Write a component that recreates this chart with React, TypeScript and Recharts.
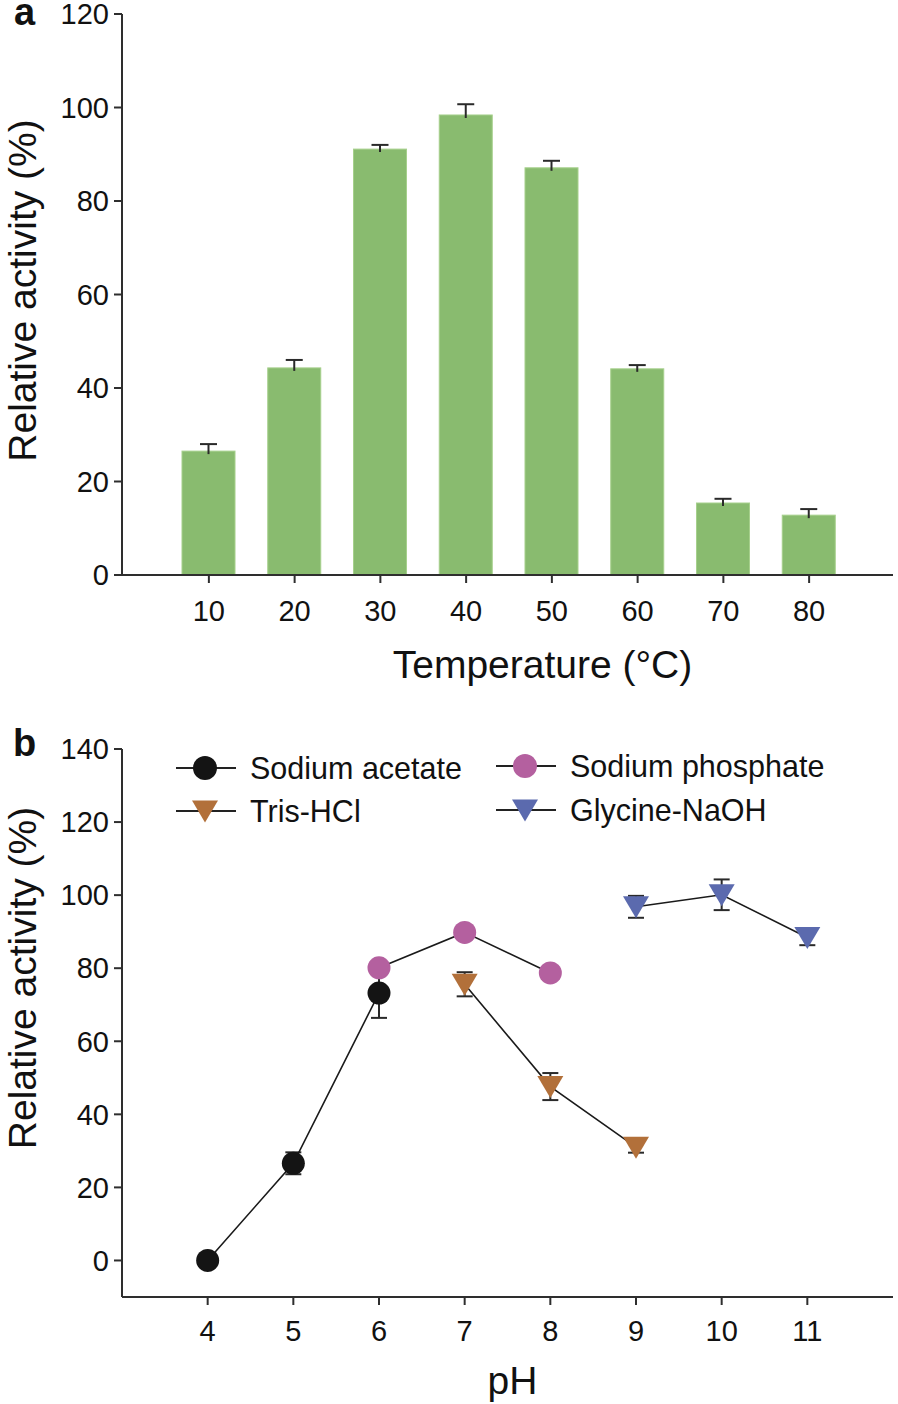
import React from 'react';
import { BarChart, Bar, XAxis, YAxis, ScatterChart, Scatter, ErrorBar, Legend, Label } from 'recharts';

// ---------- Panel a data ----------
const tempCategories = ['10', '20', '30', '40', '50', '60', '70', '80'];
const tempActivity = [26.5, 44.3, 91.1, 98.4, 87.1, 44.1, 15.4, 12.8];
const tempError = [1.5, 1.7, 0.9, 2.3, 1.5, 0.8, 0.9, 1.3];
const tempYTicks = [0, 20, 40, 60, 80, 100, 120];

// ---------- Panel b data ----------
const phTicks = [4, 5, 6, 7, 8, 9, 10, 11];
const phYTicks = [0, 20, 40, 60, 80, 100, 120, 140];

const acetatePH = [4, 5, 6];
const acetateActivity = [0, 26.6, 73.2];
const acetateError = [0.5, 3.0, 6.8];

const phosphatePH = [6, 7, 8];
const phosphateActivity = [80.1, 89.8, 78.7];
const phosphateError = [1.0, 1.5, 1.0];

const trisPH = [7, 8, 9];
const trisActivity = [75.6, 47.6, 31.0];
const trisError = [3.3, 3.7, 1.5];

const glycinePH = [9, 10, 11];
const glycineActivity = [96.8, 100.1, 88.4];
const glycineError = [3.0, 4.2, 2.1];

const seriesNames = ['Sodium acetate', 'Sodium phosphate', 'Tris-HCl', 'Glycine-NaOH'];
const seriesColors = ['#141414', '#b4609f', '#b2703a', '#5b6aae'];
const seriesShapes = ['circle', 'circle', 'triangle', 'triangle'];

const FONT = '"Liberation Sans", Arial, Helvetica, sans-serif';
const AXIS = '#2e2e2e';
const BAR_FILL = '#89bb6f';
const BAR_STROKE = '#a6d08c';

const zip = (xs: number[], ys: number[], es: number[]) =>
  xs.map((x, i) => ({ ph: x, activity: ys[i], err: es[i] }));

const BarWithError = (props: any) => {
  const { x, y, width, height, payload } = props;
  const scale = payload.activity ? height / payload.activity : 0;
  const e = payload.err * scale;
  const cx = x + width / 2;
  return (
    <g>
      <rect x={x} y={y} width={width} height={height} fill={BAR_FILL} stroke={BAR_STROKE} strokeWidth={1} />
      <line x1={cx} y1={y + 3} x2={cx} y2={y - e} stroke="#2a2a2a" strokeWidth={2} />
      <line x1={cx - 8.5} y1={y - e} x2={cx + 8.5} y2={y - e} stroke="#2a2a2a" strokeWidth={2} />
    </g>
  );
};

const makeMarker = (color: string, kind: string) => (p: any) => {
  const { cx, cy } = p;
  if (cx == null || cy == null) return <g />;
  if (kind === 'circle') return <circle cx={cx} cy={cy} r={11.5} fill={color} />;
  return (
    <polygon
      points={`${cx - 13},${cy - 10.5} ${cx + 13},${cy - 10.5} ${cx},${cy + 11.5}`}
      fill={color}
    />
  );
};

const LegendIcon = ({ x, y, color, kind }: any) => (
  <g>
    <line x1={x - 29} y1={y} x2={x + 31} y2={y} stroke="#222" strokeWidth={2} />
    {kind === 'circle' ? (
      <circle cx={x} cy={y} r={12} fill={color} />
    ) : (
      <polygon points={`${x - 13},${y - 10.5} ${x + 13},${y - 10.5} ${x},${y + 11.5}`} fill={color} />
    )}
  </g>
);

const LegendBox = () => {
  const cols = [37, 357];
  const rowsByCol = [[23, 66], [21, 65]];
  const order = [0, 1, 2, 3];
  return (
    <svg width={700} height={90} style={{ overflow: 'visible' }}>
      {order.map((si) => {
        const col = si % 2;
        const row = Math.floor(si / 2);
        const x = cols[col];
        const y = rowsByCol[col][row];
        return (
          <g key={si}>
            <LegendIcon x={x} y={y} color={seriesColors[si]} kind={seriesShapes[si]} />
            <text x={x + 45} y={y} dominantBaseline="central" fontSize={30.5} fontFamily={FONT} fill="#111">
              {seriesNames[si]}
            </text>
          </g>
        );
      })}
    </svg>
  );
};

export default function App() {
  const barData = tempCategories.map((c, i) => ({ temp: c, activity: tempActivity[i], err: tempError[i] }));
  const seriesData = [
    zip(acetatePH, acetateActivity, acetateError),
    zip(phosphatePH, phosphateActivity, phosphateError),
    zip(trisPH, trisActivity, trisError),
    zip(glycinePH, glycineActivity, glycineError),
  ];
  const tickStyle = { fill: '#111', fontSize: 29, fontFamily: FONT };

  return (
    <div style={{ position: 'absolute', left: 0, top: 0, width: 898, height: 1404, background: '#fff', fontFamily: FONT }}>
      <div style={{ position: 'absolute', left: 0, top: 0 }}>
        <BarChart width={898} height={700} data={barData} margin={{ top: 14, right: 5, left: 0, bottom: 25 }}>
          <XAxis
            dataKey="temp"
            height={100}
            padding={{ left: 44, right: 41 }}
            tickSize={8}
            tickMargin={17}
            axisLine={{ stroke: AXIS, strokeWidth: 2 }}
            tickLine={{ stroke: AXIS, strokeWidth: 2 }}
            tick={tickStyle}
          >
            <Label
              content={(p: any) => {
                const vb = p.viewBox || {};
                return (
                  <text x={vb.x + vb.width / 2 + 35} y={vb.y + 89} textAnchor="middle" dominantBaseline="central" fontSize={39} fontFamily={FONT} fill="#111">
                    Temperature (°C)
                  </text>
                );
              }}
            />
          </XAxis>
          <YAxis
            width={122}
            domain={[0, 120]}
            ticks={tempYTicks}
            interval={0}
            tickSize={8}
            tickMargin={5}
            axisLine={{ stroke: AXIS, strokeWidth: 2 }}
            tickLine={{ stroke: AXIS, strokeWidth: 2 }}
            tick={tickStyle}
          >
            <Label
              content={(p: any) => {
                const vb = p.viewBox || {};
                const cy = vb.y + vb.height / 2 - 4;
                return (
                  <text transform={`translate(${vb.x + 22},${cy}) rotate(-90)`} textAnchor="middle" dominantBaseline="central" fontSize={39} fontFamily={FONT} fill="#111">
                    Relative activity (%)
                  </text>
                );
              }}
            />
          </YAxis>
          <Bar dataKey="activity" barSize={53} isAnimationActive={false} shape={<BarWithError />} />
        </BarChart>
      </div>

      <div style={{ position: 'absolute', left: 0, top: 700 }}>
        <ScatterChart width={898} height={704} margin={{ top: 49, right: 5, left: 0, bottom: 7 }}>
          <XAxis
            type="number"
            dataKey="ph"
            domain={[3, 12]}
            ticks={phTicks}
            interval={0}
            height={100}
            tickSize={8}
            tickMargin={15}
            axisLine={{ stroke: AXIS, strokeWidth: 2 }}
            tickLine={{ stroke: AXIS, strokeWidth: 2 }}
            tick={tickStyle}
          >
            <Label
              content={(p: any) => {
                const vb = p.viewBox || {};
                return (
                  <text x={vb.x + vb.width / 2 + 5} y={vb.y + 97} textAnchor="middle" fontSize={39} fontFamily={FONT} fill="#111">
                    pH
                  </text>
                );
              }}
            />
          </XAxis>
          <YAxis
            type="number"
            dataKey="activity"
            width={122}
            domain={[-10, 140]}
            ticks={phYTicks}
            interval={0}
            tickSize={8}
            tickMargin={5}
            axisLine={{ stroke: AXIS, strokeWidth: 2 }}
            tickLine={{ stroke: AXIS, strokeWidth: 2 }}
            tick={tickStyle}
          >
            <Label
              content={(p: any) => {
                const vb = p.viewBox || {};
                const cy = vb.y + vb.height / 2 - 45;
                return (
                  <text transform={`translate(${vb.x + 22},${cy}) rotate(-90)`} textAnchor="middle" dominantBaseline="central" fontSize={39} fontFamily={FONT} fill="#111">
                    Relative activity (%)
                  </text>
                );
              }}
            />
          </YAxis>
          <Legend
            layout="horizontal"
            verticalAlign="middle"
            align="center"
            wrapperStyle={{ top: 45, left: 168, width: 700, height: 90 }}
            content={() => <LegendBox />}
          />
          {seriesData.map((d, i) => (
            <Scatter
              key={seriesNames[i]}
              name={seriesNames[i]}
              data={d}
              fill={seriesColors[i]}
              line={{ stroke: '#1a1a1a', strokeWidth: 1.6 }}
              isAnimationActive={false}
              shape={makeMarker(seriesColors[i], seriesShapes[i])}
            >
              <ErrorBar dataKey="err" direction="y" width={8} stroke="#2a2a2a" strokeWidth={2} />
            </Scatter>
          ))}
        </ScatterChart>
      </div>

      <svg width={898} height={1404} style={{ position: 'absolute', left: 0, top: 0, pointerEvents: 'none' }}>
        <text x={14} y={25} fontSize={38} fontWeight="bold" fontFamily={FONT} fill="#111">a</text>
        <text x={13} y={756} fontSize={38} fontWeight="bold" fontFamily={FONT} fill="#111">b</text>
      </svg>
    </div>
  );
}
